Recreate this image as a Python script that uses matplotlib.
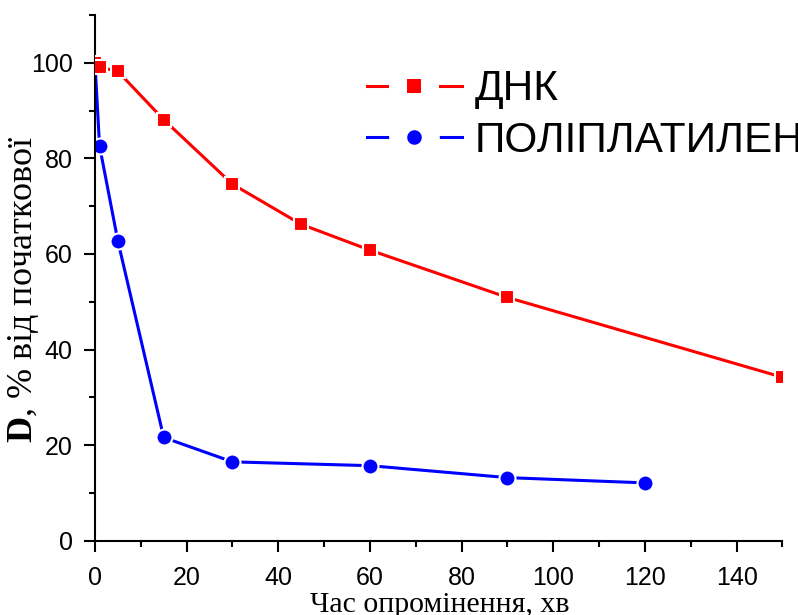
import numpy as np
import matplotlib
matplotlib.use('Agg')
import matplotlib.pyplot as plt
from matplotlib.lines import Line2D
from matplotlib.legend_handler import HandlerTuple
from matplotlib.ticker import MultipleLocator

plt.rcParams['mathtext.fontset'] = 'custom'
plt.rcParams['mathtext.bf'] = 'Liberation Serif:bold'
plt.rcParams['mathtext.rm'] = 'Liberation Serif'

# Irradiation time (min) and remaining optical density (% of initial)
t_dna = [0, 1, 5, 15, 30, 45, 60, 90, 150]
d_dna = [100, 99.1, 98.2, 88.1, 74.6, 66.2, 60.8, 50.9, 34.2]
t_poly = [0, 1, 5, 15, 30, 60, 90, 120]
d_poly = [100, 82.6, 62.7, 21.6, 16.5, 15.7, 13.2, 12.1]
labels = ['ДНК', 'ПОЛІПЛАТИЛЕН']

fig = plt.figure(figsize=(7.98, 6.15), dpi=100)
ax = fig.add_axes([0.119, 0.1208, 0.8615, 0.8548])

ax.plot(t_dna, d_dna, color='#ff0000', lw=2.2, marker='s', ms=10.1,
        mfc='#ff0000', mec='white', mew=1.5, zorder=3)
ax.plot(t_poly, d_poly, color='#0000ff', lw=2.2, marker='o', ms=11.5,
        mfc='#0000ff', mec='white', mew=1.5, zorder=2)

ax.set_xlim(0, 150)
ax.set_ylim(0, 110)
ax.xaxis.set_major_locator(MultipleLocator(20))
ax.xaxis.set_minor_locator(MultipleLocator(10))
ax.yaxis.set_major_locator(MultipleLocator(20))
ax.yaxis.set_minor_locator(MultipleLocator(10))

for side in ['top', 'right']:
    ax.spines[side].set_visible(False)
for side in ['left', 'bottom']:
    ax.spines[side].set_linewidth(1.5)
ax.tick_params(which='major', direction='out', length=8, width=1.5,
               labelsize=18)
ax.tick_params(axis='x', which='major', pad=10)
ax.tick_params(axis='y', which='major', pad=8)
ax.tick_params(which='minor', direction='out', length=4, width=1.5)
for lbl in ax.get_xticklabels() + ax.get_yticklabels():
    lbl.set_fontfamily('Liberation Sans')

ax.set_xlabel('Час опромінення, хв', family='Liberation Serif', fontsize=21.5,
              va='baseline', ha='center')
ax.xaxis.set_label_coords(0.502, -0.1356)
ax.set_ylabel(r'$\mathbf{D}$, % від початкової', family='Liberation Serif',
              fontsize=26, va='center', ha='center', rotation_mode='default')
ax.yaxis.set_label_coords(-0.1033, 0.479)

# legend: marker sits in a white gap on the line, as in Origin plots
h_dna = (Line2D([], [], color='#ff0000', lw=2.2),
         Line2D([], [], ls='none', marker='s', ms=23, mfc='#ff0000',
                mec='white', mew=13))
h_poly = (Line2D([], [], color='#0000ff', lw=2.2),
          Line2D([], [], ls='none', marker='o', ms=23.5, mfc='#0000ff',
                 mec='white', mew=13))
fig.legend([h_dna, h_poly], labels, handler_map={tuple: HandlerTuple(ndivide=1)},
           loc='upper left', bbox_to_anchor=(367 / 798, 0.887),
           frameon=False, borderpad=0, borderaxespad=0,
           handlelength=2.24, handletextpad=0.3, labelspacing=0.26,
           prop={'family': 'Liberation Sans', 'size': 30.5})

fig.savefig('out.png', dpi=100)
